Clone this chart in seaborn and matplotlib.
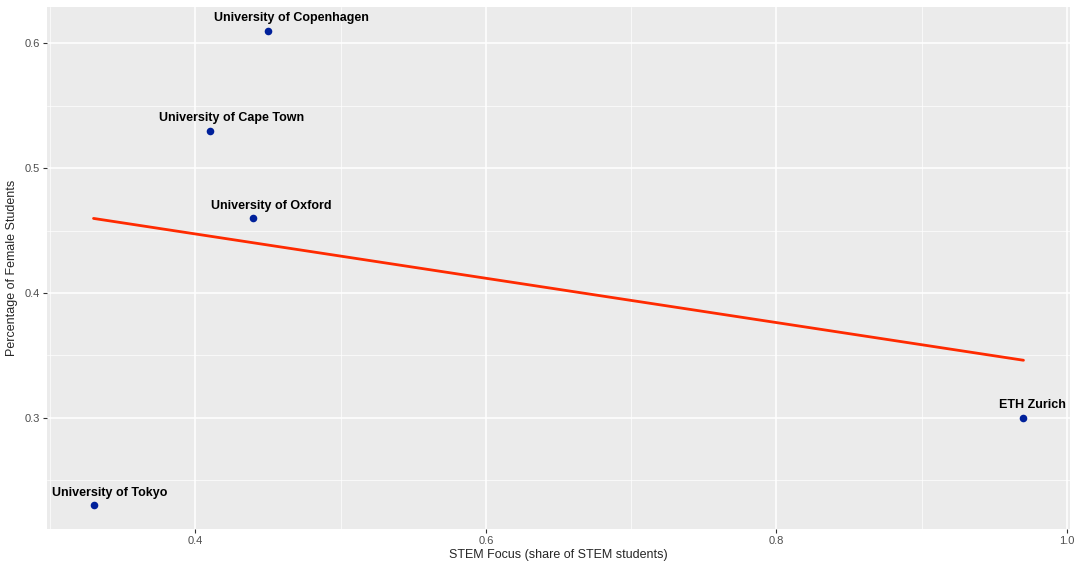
import numpy as np
import pandas as pd
import matplotlib
matplotlib.use("Agg")
import matplotlib.pyplot as plt
import seaborn as sns

# datos
universities = ["University of Copenhagen", "University of Cape Town", "University of Oxford",
                "University of Tokyo", "ETH Zurich"]
stem_focus = [0.45, 0.41, 0.44, 0.33, 0.97]
female_pct = [0.61, 0.53, 0.46, 0.23, 0.30]

# desplazamiento horizontal de las etiquetas (en puntos)
label_dx = [17, 16, 13, 12, 6.5]

df = pd.DataFrame({"uni": universities, "stem": stem_focus, "female": female_pct})

sns.set_theme(style="darkgrid", rc={
    "axes.facecolor": "#EBEBEB",
    "grid.color": "white",
    "xtick.color": "#333333",
    "ytick.color": "#333333",
    "xtick.labelcolor": "#4D4D4D",
    "ytick.labelcolor": "#4D4D4D",
})
plt.rcParams["font.family"] = ["Liberation Sans", "DejaVu Sans"]

fig = plt.figure(figsize=(10.76, 5.62), dpi=100)
ax = fig.add_axes([0.0437, 0.0587, 0.9507, 0.9288])

sns.regplot(data=df, x="stem", y="female", ci=None, ax=ax,
            scatter_kws={"color": "#00209A", "s": 30, "zorder": 3, "linewidths": 0, "alpha": 1},
            line_kws={"color": "#FF2A00", "lw": 2})

for u, xv, yv, dx in zip(universities, stem_focus, female_pct, label_dx):
    ax.annotate(u, (xv, yv), xytext=(dx, 9), textcoords="offset points",
                ha="center", va="center", fontsize=9, fontweight="bold", color="black")

ax.set_xlim(0.298, 1.002)
ax.set_ylim(0.211, 0.629)
ax.set_xticks([0.4, 0.6, 0.8, 1.0])
ax.set_xticklabels(["0.4", "0.6", "0.8", "1.0"])
ax.set_yticks([0.3, 0.4, 0.5, 0.6])
ax.set_yticklabels(["0.3", "0.4", "0.5", "0.6"])
ax.set_xticks([0.3, 0.5, 0.7, 0.9], minor=True)
ax.set_yticks([0.25, 0.35, 0.45, 0.55], minor=True)
ax.grid(which="major", color="white", lw=1.1)
ax.grid(which="minor", color="white", lw=0.5)
ax.tick_params(which="major", bottom=True, left=True, length=3, width=0.8, labelsize=8, pad=2)
ax.tick_params(which="minor", length=0)
for s in ax.spines.values():
    s.set_visible(False)

ax.set_xlabel("STEM Focus (share of STEM students)", fontsize=9, labelpad=2)
ax.set_ylabel("Percentage of Female Students", fontsize=9, labelpad=5)

fig.savefig("out.png", dpi=100)
